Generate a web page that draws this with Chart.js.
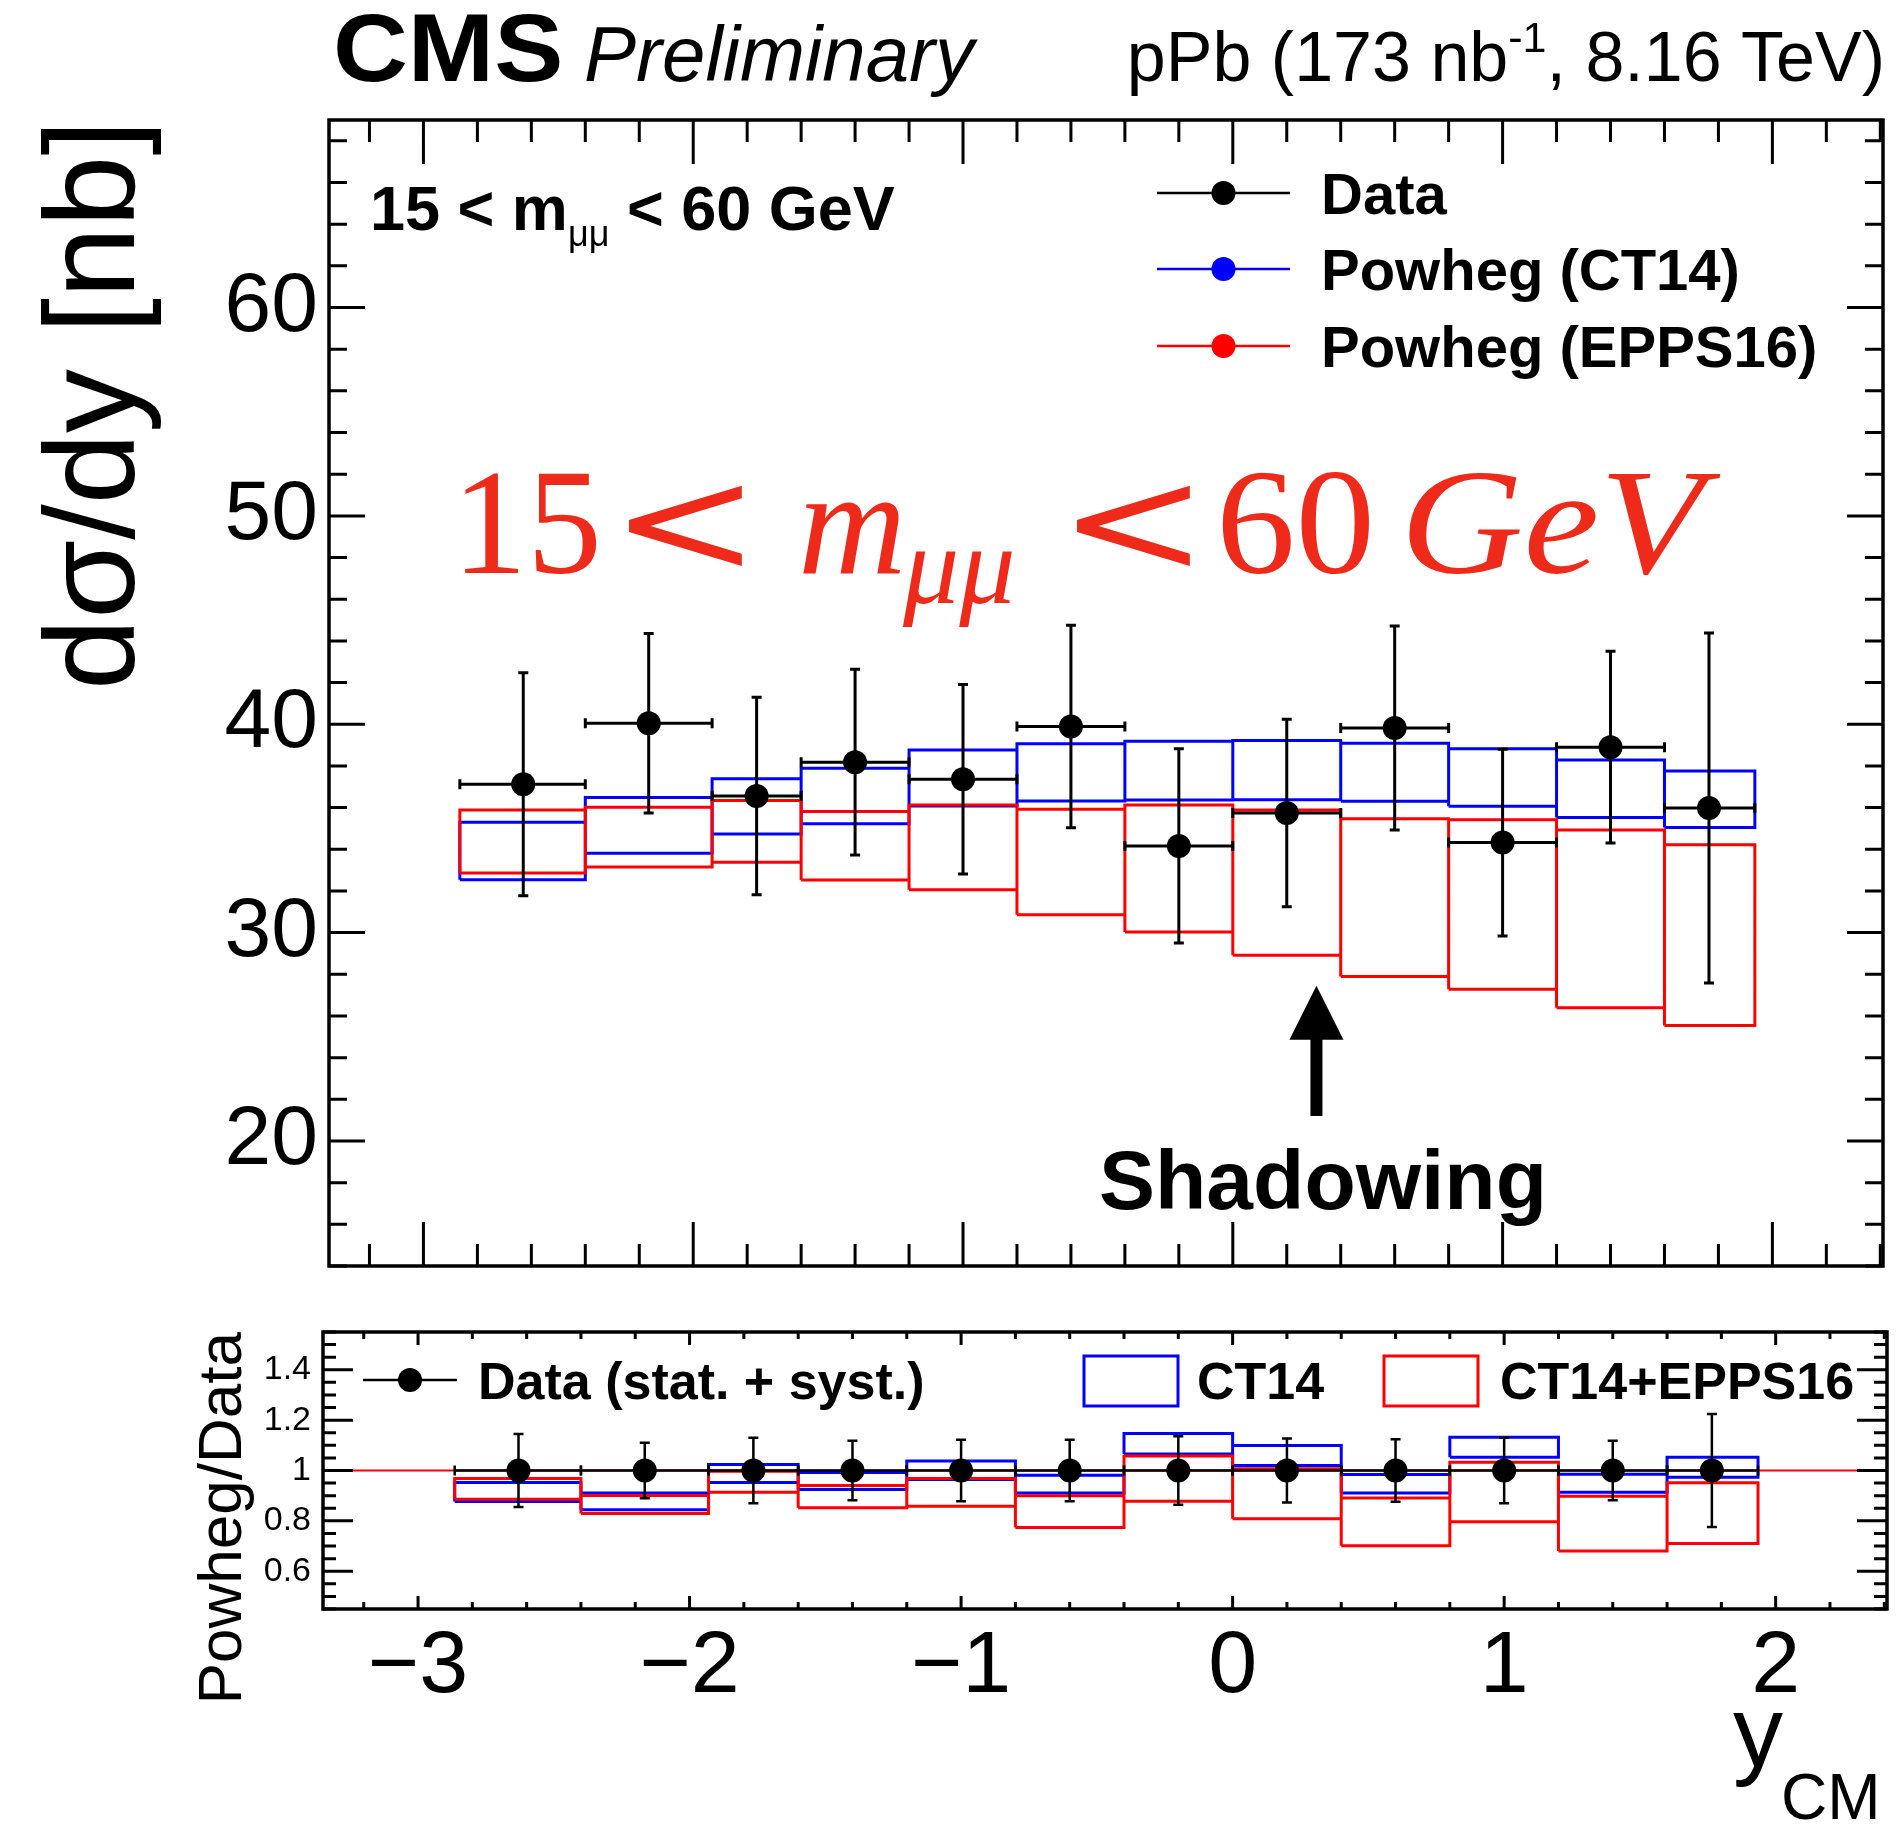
<!DOCTYPE html>
<html>
<head>
<meta charset="utf-8">
<script src="https://cdn.jsdelivr.net/npm/chart.js@4/dist/chart.umd.min.js"></script>
<style>
  html, body { margin: 0; padding: 0; background: #fff; }
  #wrap { position: relative; width: 1900px; height: 1825px; background: #fff; }
  #topBox { position: absolute; left: 0; top: 0; width: 1900px; height: 1300px; }
  #botBox { position: absolute; left: 0; top: 1300px; width: 1900px; height: 525px; }
</style>
</head>
<body>
<div id="wrap">
  <div id="topBox"><canvas id="top" width="1900" height="1300"></canvas></div>
  <div id="botBox"><canvas id="bot" width="1900" height="525"></canvas></div>
</div>
<script>
// ---- rapidity binning (y_CM) ----
const binEdges   = [-2.865, -2.4, -1.93, -1.6, -1.2, -0.8, -0.4, 0, 0.4, 0.8, 1.2, 1.6, 1.935];
const binCenters = [-2.63, -2.165, -1.765, -1.4, -1.0, -0.6, -0.2, 0.2, 0.6, 1.0, 1.4, 1.765];

// ---- dσ/dy [nb], 15 < m_μμ < 60 GeV ----
const dataXsec = [37.12, 40.05, 36.56, 38.18, 37.36, 39.89, 34.16, 35.74, 39.82, 34.32, 38.90, 35.98];
const dataErr  = [5.35, 4.31, 4.74, 4.46, 4.55, 4.86, 4.66, 4.50, 4.90, 4.48, 4.60, 8.40];

// Powheg (CT14) band
const ct14Hi = [35.30, 36.48, 37.39, 37.89, 38.77, 39.07, 39.18, 39.22, 39.09, 38.82, 38.29, 37.76];
const ct14Lo = [32.54, 33.81, 34.73, 35.23, 36.08, 36.32, 36.37, 36.38, 36.30, 36.06, 35.52, 35.04];
// Powheg (EPPS16) band
const eppsHi = [35.89, 36.02, 36.34, 35.81, 36.13, 35.92, 36.13, 35.89, 35.47, 35.42, 34.93, 34.22];
const eppsLo = [32.86, 33.15, 33.38, 32.53, 32.06, 30.86, 30.03, 28.91, 27.89, 27.28, 26.40, 25.54];

// ---- Powheg / Data ----
const ratioData    = [1, 1, 1, 1, 1, 1, 1, 1, 1, 1, 1, 1];
const ratioErr     = [0.145, 0.110, 0.130, 0.118, 0.122, 0.122, 0.136, 0.127, 0.124, 0.130, 0.118, 0.224];
const ratioCt14Hi  = [0.952, 0.911, 1.024, 0.992, 1.038, 0.981, 1.147, 1.099, 0.984, 1.132, 0.985, 1.053];
const ratioCt14Lo  = [0.877, 0.844, 0.952, 0.925, 0.964, 0.911, 1.066, 1.020, 0.911, 1.053, 0.914, 0.973];
const ratioEppsHi  = [0.968, 0.901, 0.997, 0.940, 0.968, 0.900, 1.058, 1.007, 0.891, 1.033, 0.898, 0.951];
const ratioEppsLo  = [0.886, 0.829, 0.914, 0.852, 0.858, 0.774, 0.878, 0.808, 0.701, 0.796, 0.680, 0.710];
const ratioRefLine = [1];

// ---- axes ----
const xRange          = [-3.35, 2.41];
const xTickValues     = [-3, -2, -1, 0, 1, 2];
const xTickLabels     = ['\u22123', '\u22122', '\u22121', '0', '1', '2'];
const mainYRange      = [14, 69];
const mainYTickValues = [20, 30, 40, 50, 60];
const mainYTickLabels = ['20', '30', '40', '50', '60'];
const ratioYRange     = [0.45, 1.55];
const ratioYTickValues = [0.6, 0.8, 1, 1.2, 1.4];
const ratioYTickLabels = ['0.6', '0.8', '1', '1.2', '1.4'];

// "Shadowing" arrow, in axis units
const shadowArrow = { x: 0.31, tail: 21.2, tip: 27.45 };

const SANS = '"Liberation Sans", Arial, Helvetica, sans-serif';
const SERIF = '"Liberation Serif", "Times New Roman", serif';

Chart.defaults.color = '#000';

// closed rectangles per bin, separated by gaps
function boxOutline(lo, hi) {
  const pts = [];
  for (let i = 0; i < lo.length; i++) {
    const x0 = binEdges[i], x1 = binEdges[i + 1];
    pts.push({x: x0, y: lo[i]}, {x: x0, y: hi[i]}, {x: x1, y: hi[i]},
             {x: x1, y: lo[i]}, {x: x0, y: lo[i]}, {x: x1, y: null});
  }
  return pts;
}
function points(xs, ys) { return xs.map((x, i) => ({x: x, y: ys[i]})); }

// fixed-size axis boxes without label overhang padding
function fixBox(prop, size) {
  return function (s) {
    s[prop] = size;
    s.paddingTop = 0; s.paddingBottom = 0; s.paddingLeft = 0; s.paddingRight = 0;
  };
}

// error bars (x: bin width, y: symmetric) drawn under the markers
const errorBarPlugin = {
  id: 'errorBars',
  beforeDatasetDraw(chart, args) {
    const ds = chart.data.datasets[args.index];
    if (!ds.errBars) return;
    const {ctx, chartArea: a} = chart;
    const xs = chart.scales.x, ys = chart.scales.y;
    const e = ds.errBars;
    ctx.save();
    ctx.beginPath(); ctx.rect(a.left, a.top, a.width, a.height); ctx.clip();
    ctx.strokeStyle = '#000';
    ctx.lineWidth = e.width;
    ctx.lineCap = 'butt';
    ds.data.forEach((p, i) => {
      const px = xs.getPixelForValue(p.x), py = ys.getPixelForValue(p.y);
      const xl = xs.getPixelForValue(binEdges[i]), xr = xs.getPixelForValue(binEdges[i + 1]);
      const yt = ys.getPixelForValue(p.y + e.err[i]), yb = ys.getPixelForValue(p.y - e.err[i]);
      const c = e.cap;
      ctx.beginPath();
      ctx.moveTo(xl, py); ctx.lineTo(xr, py);
      ctx.moveTo(xl, py - c); ctx.lineTo(xl, py + c);
      ctx.moveTo(xr, py - c); ctx.lineTo(xr, py + c);
      ctx.moveTo(px, yt); ctx.lineTo(px, yb);
      ctx.moveTo(px - c, yt); ctx.lineTo(px + c, yt);
      ctx.moveTo(px - c, yb); ctx.lineTo(px + c, yb);
      ctx.stroke();
    });
    ctx.restore();
  }
};

// frame with inward ticks on all four sides
const framePlugin = {
  id: 'frame',
  afterDraw(chart, args, o) {
    const {ctx, chartArea: a} = chart;
    const xs = chart.scales.x, ys = chart.scales.y;
    const isMul = (v, step) => Math.abs(v / step - Math.round(v / step)) < 1e-6;
    ctx.save();
    ctx.strokeStyle = '#000';
    ctx.lineWidth = o.tickWidth;
    ctx.beginPath();
    for (let k = Math.ceil(xs.min / o.xMinor - 1e-9); k * o.xMinor <= xs.max + 1e-9; k++) {
      const v = k * o.xMinor, px = xs.getPixelForValue(v);
      const len = isMul(v, o.xMajor) ? o.xMajorLen : o.xMinorLen;
      ctx.moveTo(px, a.bottom); ctx.lineTo(px, a.bottom - len);
      ctx.moveTo(px, a.top); ctx.lineTo(px, a.top + len);
    }
    for (let k = Math.ceil(ys.min / o.yMinor - 1e-9); k * o.yMinor <= ys.max + 1e-9; k++) {
      const v = k * o.yMinor, py = ys.getPixelForValue(v);
      const len = isMul(v, o.yMajor) ? o.yMajorLen : o.yMinorLen;
      ctx.moveTo(a.left, py); ctx.lineTo(a.left + len, py);
      ctx.moveTo(a.right, py); ctx.lineTo(a.right - len, py);
    }
    ctx.stroke();
    ctx.lineWidth = o.frameWidth;
    ctx.strokeRect(a.left, a.top, a.width, a.height);
    ctx.restore();
  }
};

function legendMarkerLine(ctx, x0, x1, y, color, r) {
  ctx.strokeStyle = color; ctx.lineWidth = 2.5;
  ctx.beginPath(); ctx.moveTo(x0, y); ctx.lineTo(x1, y); ctx.stroke();
  ctx.fillStyle = color;
  ctx.beginPath(); ctx.arc((x0 + x1) / 2, y, r, 0, 2 * Math.PI); ctx.fill();
}

// text drawn with a horizontal stretch factor
function stretchedText(ctx, text, x, y, sx) {
  ctx.save();
  ctx.translate(x, y);
  ctx.scale(sx, 1);
  ctx.fillText(text, 0, 0);
  ctx.restore();
}

// labels, legend and annotation of the upper pad
const upperTextPlugin = {
  id: 'upperText',
  afterDraw(chart) {
    const ctx = chart.ctx;
    ctx.save();
    ctx.textBaseline = 'alphabetic';
    ctx.textAlign = 'left';
    ctx.fillStyle = '#000';

    ctx.font = 'bold 96px ' + SANS;
    stretchedText(ctx, 'CMS', 333, 81, 1.08);
    ctx.font = 'italic 78px ' + SANS;
    ctx.fillText('Preliminary', 584, 81);

    // pPb (173 nb^-1, 8.16 TeV), right aligned
    const fBig = '70px ' + SANS, fSup = '43px ' + SANS;
    const s1 = 'pPb (173 nb', s2 = '-1', s3 = ', 8.16 TeV)';
    ctx.font = fBig; const w1 = ctx.measureText(s1).width, w3 = ctx.measureText(s3).width;
    ctx.font = fSup; const w2 = ctx.measureText(s2).width;
    let x = 1885 - (w1 + w2 + w3);
    ctx.font = fBig; ctx.fillText(s1, x, 81); x += w1;
    ctx.font = fSup; ctx.fillText(s2, x, 52); x += w2;
    ctx.font = fBig; ctx.fillText(s3, x, 81);

    // mass window label
    x = 370;
    ctx.font = 'bold 63px ' + SANS;
    ctx.fillText('15 < m', x, 230); x += ctx.measureText('15 < m').width;
    ctx.font = '36px ' + SANS;
    ctx.fillText('\u03bc\u03bc', x, 246); x += ctx.measureText('\u03bc\u03bc').width;
    ctx.font = 'bold 63px ' + SANS;
    ctx.fillText(' < 60 GeV', x, 230);

    // legend
    const rows = [
      {label: 'Data', color: '#000', y: 193},
      {label: 'Powheg (CT14)', color: '#0000ff', y: 269},
      {label: 'Powheg (EPPS16)', color: '#ff0000', y: 346}
    ];
    rows.forEach(r => {
      legendMarkerLine(ctx, 1157, 1290, r.y, r.color, 12);
      ctx.fillStyle = '#000';
      ctx.font = 'bold 58px ' + SANS;
      ctx.fillText(r.label, 1321, r.y + 21);
    });

    // large red mass-window caption
    const red = '#ee2a1b';
    ctx.fillStyle = red;
    const base = 573;
    ctx.font = '150px ' + SERIF;              ctx.fillText('15', 452, base);
    ctx.font = '150px "DejaVu Serif", serif'; stretchedText(ctx, '<', 610, base, 1.2);
    ctx.font = 'italic 150px ' + SERIF;       ctx.fillText('m', 798, base);
    ctx.font = 'italic 112px ' + SERIF;       ctx.fillText('\u03bc\u03bc', 903, base + 30);
    ctx.font = '150px "DejaVu Serif", serif'; stretchedText(ctx, '<', 1058, base, 1.2);
    ctx.font = '150px ' + SERIF;              stretchedText(ctx, '60', 1216, base, 1.06);
    ctx.font = 'italic 150px ' + SERIF;       stretchedText(ctx, 'GeV', 1400, base, 1.14);

    // shadowing arrow
    const xs = chart.scales.x, ys = chart.scales.y;
    const ax = xs.getPixelForValue(shadowArrow.x);
    const yTail = ys.getPixelForValue(shadowArrow.tail);
    const yTip = ys.getPixelForValue(shadowArrow.tip);
    const headLen = 54, headHalf = 27;
    ctx.fillStyle = '#000';
    ctx.fillRect(ax - 6, yTip + headLen - 1, 12, yTail - yTip - headLen + 1);
    ctx.beginPath();
    ctx.moveTo(ax, yTip);
    ctx.lineTo(ax + headHalf, yTip + headLen);
    ctx.lineTo(ax - headHalf, yTip + headLen);
    ctx.closePath(); ctx.fill();

    ctx.font = 'bold 84px ' + SANS;
    ctx.textAlign = 'center';
    ctx.fillText('Shadowing', 1323, 1209);
    ctx.restore();
  }
};

// legend and x title of the ratio pad
const lowerTextPlugin = {
  id: 'lowerText',
  afterDraw(chart) {
    const ctx = chart.ctx;
    ctx.save();
    ctx.textBaseline = 'alphabetic';
    ctx.textAlign = 'left';
    const rowY = 80;
    legendMarkerLine(ctx, 363, 457, rowY, '#000', 12);
    ctx.fillStyle = '#000';
    ctx.font = 'bold 52px ' + SANS;
    ctx.fillText('Data (stat. + syst.)', 478, rowY + 19);

    ctx.lineWidth = 3;
    ctx.strokeStyle = '#0000ff';
    ctx.strokeRect(1084, 56, 94, 50);
    ctx.fillText('CT14', 1197, rowY + 19);
    ctx.strokeStyle = '#ff0000';
    ctx.strokeRect(1384, 56, 94, 50);
    ctx.fillText('CT14+EPPS16', 1500, rowY + 19);

    // y_CM
    ctx.font = '100px ' + SANS;
    ctx.fillText('y', 1733, 466);
    ctx.font = '64px ' + SANS;
    ctx.fillText('CM', 1781, 519);
    ctx.restore();
  }
};

const boxStyle = (color) => ({
  showLine: true, borderColor: color, borderWidth: 3, pointRadius: 0,
  spanGaps: false, tension: 0, borderJoinStyle: 'miter', fill: false
});

// ---------------- upper pad: dσ/dy ----------------
new Chart(document.getElementById('top'), {
  type: 'scatter',
  data: {
    datasets: [
      {
        label: 'Data', data: points(binCenters, dataXsec),
        pointRadius: 12, pointBackgroundColor: '#000', pointBorderColor: '#000', pointBorderWidth: 0,
        showLine: false,
        errBars: { err: dataErr, width: 3, cap: 5 }
      },
      Object.assign({ label: 'Powheg (EPPS16)', data: boxOutline(eppsLo, eppsHi) }, boxStyle('#ff0000')),
      Object.assign({ label: 'Powheg (CT14)', data: boxOutline(ct14Lo, ct14Hi) }, boxStyle('#0000ff'))
    ]
  },
  options: {
    responsive: false, animation: false, devicePixelRatio: 1,
    layout: { padding: { left: 0, top: 120, right: 17, bottom: 0 } },
    plugins: {
      legend: { display: false }, tooltip: { enabled: false },
      frame: { tickWidth: 3, frameWidth: 3.5,
               xMinor: 0.2, xMajor: 1, xMinorLen: 22, xMajorLen: 44,
               yMinor: 2, yMajor: 10, yMinorLen: 18, yMajorLen: 36 }
    },
    scales: {
      x: {
        type: 'linear', min: xRange[0], max: xRange[1],
        ticks: { display: false }, grid: { display: false, drawTicks: false }, border: { display: false },
        afterFit: fixBox('height', 34)
      },
      y: {
        type: 'linear', min: mainYRange[0], max: mainYRange[1],
        afterBuildTicks(s) { s.ticks = mainYTickValues.map(v => ({ value: v })); },
        ticks: {
          font: { family: SANS, size: 84 }, color: '#000', padding: 11,
          callback: (v) => mainYTickLabels[mainYTickValues.indexOf(v)]
        },
        grid: { display: false, drawTicks: false }, border: { display: false },
        title: {
          display: true, text: 'd\u03c3/dy [nb]', align: 'end', color: '#000',
          font: { family: SANS, size: 128 }, padding: { top: 22, bottom: 0 }
        },
        afterFit: fixBox('width', 329)
      }
    }
  },
  plugins: [errorBarPlugin, framePlugin, upperTextPlugin]
});

// ---------------- lower pad: Powheg / Data ----------------
new Chart(document.getElementById('bot'), {
  type: 'scatter',
  data: {
    datasets: [
      {
        label: 'Data (stat. + syst.)', data: points(binCenters, ratioData),
        pointRadius: 12, pointBackgroundColor: '#000', pointBorderColor: '#000', pointBorderWidth: 0,
        showLine: false,
        errBars: { err: ratioErr, width: 2.5, cap: 5 }
      },
      Object.assign({ label: 'CT14+EPPS16', data: boxOutline(ratioEppsLo, ratioEppsHi) }, boxStyle('#ff0000')),
      Object.assign({ label: 'CT14', data: boxOutline(ratioCt14Lo, ratioCt14Hi) }, boxStyle('#0000ff')),
      {
        label: 'unity', data: [{ x: xRange[0], y: ratioRefLine[0] }, { x: xRange[1], y: ratioRefLine[0] }],
        showLine: true, borderColor: '#ff0000', borderWidth: 2, pointRadius: 0
      }
    ]
  },
  options: {
    responsive: false, animation: false, devicePixelRatio: 1,
    layout: { padding: { left: 0, top: 32, right: 13, bottom: 0 } },
    plugins: {
      legend: { display: false }, tooltip: { enabled: false },
      frame: { tickWidth: 3, frameWidth: 3.5,
               xMinor: 0.2, xMajor: 1, xMinorLen: 7, xMajorLen: 13,
               yMinor: 0.05, yMajor: 0.2, yMinorLen: 13, yMajorLen: 30 }
    },
    scales: {
      x: {
        type: 'linear', min: xRange[0], max: xRange[1],
        afterBuildTicks(s) { s.ticks = xTickValues.map(v => ({ value: v })); },
        ticks: {
          font: { family: SANS, size: 88 }, color: '#000', padding: 6, maxRotation: 0, autoSkip: false,
          callback: (v) => xTickLabels[xTickValues.indexOf(v)]
        },
        grid: { display: false, drawTicks: false }, border: { display: false },
        afterFit: fixBox('height', 216)
      },
      y: {
        type: 'linear', min: ratioYRange[0], max: ratioYRange[1],
        afterBuildTicks(s) { s.ticks = ratioYTickValues.map(v => ({ value: v })); },
        ticks: {
          font: { family: SANS, size: 34 }, color: '#000', padding: 12,
          callback: (v) => ratioYTickLabels[ratioYTickValues.indexOf(v)]
        },
        grid: { display: false, drawTicks: false }, border: { display: false },
        title: {
          display: true, text: 'Powheg/Data', align: 'end', color: '#000',
          font: { family: SANS, size: 62 }, padding: { top: 187, bottom: 0 }
        },
        afterFit: fixBox('width', 323)
      }
    }
  },
  plugins: [errorBarPlugin, framePlugin, lowerTextPlugin]
});
</script>
</body>
</html>
